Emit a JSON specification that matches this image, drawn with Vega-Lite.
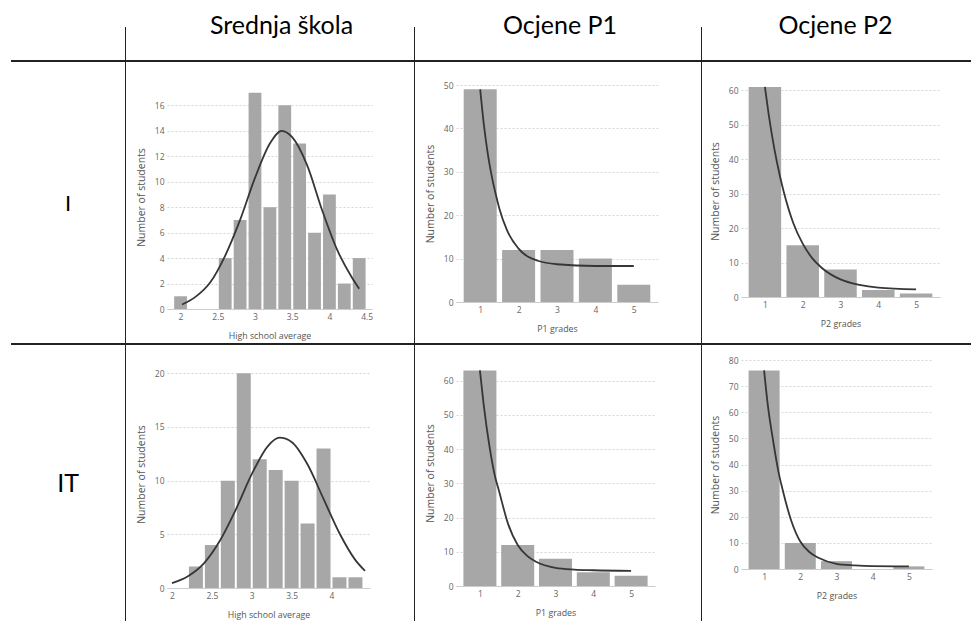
{
"$schema": "https://vega.github.io/schema/vega-lite/v6.json",
"padding": 0,
"background": "white",
"data": {"values": []},
"columns": 14,
"spacing": 0,
"bounds": "flush",
"align": "each",
"concat": [
{"width":11,"height":27,"mark":"point"},
{"width":114,"height":27,"mark":"point"},
{"width":1,"height":27,"mark":"point"},
{"width":41,"height":27,"mark":"point"},
{"width":205,"height":27,"data":{"values":[{}]},"mark":{"type":"text","text":"Srednja škola","fontSize":25,"baseline":"alphabetic","dx":12,"dy":20}},
{"width":42,"height":27,"mark":"point"},
{"width":1,"height":27,"mark":"point"},
{"width":41,"height":27,"mark":"point"},
{"width":202,"height":27,"data":{"values":[{}]},"mark":{"type":"text","text":"Ocjene P1","fontSize":25,"baseline":"alphabetic","dx":3,"dy":20}},
{"width":43,"height":27,"mark":"point"},
{"width":1,"height":27,"mark":"point"},
{"width":39,"height":27,"mark":"point"},
{"width":199,"height":27,"data":{"values":[{}]},"mark":{"type":"text","text":"Ocjene P2","fontSize":25,"baseline":"alphabetic","dx":-5,"dy":20}},
{"width":31,"height":27,"mark":"point"},

{"width":11,"height":33,"mark":"point"},
{"width":114,"height":33,"mark":"point"},
{"width":1,"height":33,"mark":"point","view":{"fill":"#222222"}},
{"width":41,"height":33,"mark":"point"},
{"width":205,"height":33,"mark":"point"},
{"width":42,"height":33,"mark":"point"},
{"width":1,"height":33,"mark":"point","view":{"fill":"#222222"}},
{"width":41,"height":33,"mark":"point"},
{"width":202,"height":33,"mark":"point"},
{"width":43,"height":33,"mark":"point"},
{"width":1,"height":33,"mark":"point","view":{"fill":"#222222"}},
{"width":39,"height":33,"mark":"point"},
{"width":199,"height":33,"mark":"point"},
{"width":31,"height":33,"mark":"point"},

{"width":11,"height":2,"mark":"point"},
{"width":114,"height":2,"mark":"point","view":{"fill":"#222222"}},
{"width":1,"height":2,"mark":"point","view":{"fill":"#222222"}},
{"width":41,"height":2,"mark":"point","view":{"fill":"#222222"}},
{"width":205,"height":2,"mark":"point","view":{"fill":"#222222"}},
{"width":42,"height":2,"mark":"point","view":{"fill":"#222222"}},
{"width":1,"height":2,"mark":"point","view":{"fill":"#222222"}},
{"width":41,"height":2,"mark":"point","view":{"fill":"#222222"}},
{"width":202,"height":2,"mark":"point","view":{"fill":"#222222"}},
{"width":43,"height":2,"mark":"point","view":{"fill":"#222222"}},
{"width":1,"height":2,"mark":"point","view":{"fill":"#222222"}},
{"width":39,"height":2,"mark":"point","view":{"fill":"#222222"}},
{"width":199,"height":2,"mark":"point","view":{"fill":"#222222"}},
{"width":31,"height":2,"mark":"point","view":{"fill":"#222222"}},

{"width":11,"height":23,"mark":"point"},
{"width":114,"height":23,"mark":"point"},
{"width":1,"height":23,"mark":"point","view":{"fill":"#222222"}},
{"width":41,"height":23,"mark":"point"},
{"width":205,"height":23,"mark":"point"},
{"width":42,"height":23,"mark":"point"},
{"width":1,"height":23,"mark":"point","view":{"fill":"#222222"}},
{"width":41,"height":23,"mark":"point"},
{"width":202,"height":23,"mark":"point"},
{"width":43,"height":23,"mark":"point"},
{"width":1,"height":23,"mark":"point","view":{"fill":"#222222"}},
{"width":39,"height":23,"mark":"point"},
{"width":199,"height":23,"mark":"point"},
{"width":31,"height":23,"mark":"point"},

{"width":11,"height":224,"mark":"point"},
{"width":114,"height":224,"data":{"values":[{}]},"mark":{"type":"text","text":"I","fontSize":22,"baseline":"alphabetic","dy":14}},
{"width":1,"height":224,"mark":"point","view":{"fill":"#222222"}},
{"width":41,"height":224,"mark":"point"},
{"width":205,"height":224,
 "encoding":{"x":{"field":"x","type":"quantitative","scale":{"domain":[1.885,4.505],"nice":false,"zero":false},"axis":{"values":[2,2.5,3,3.5,4,4.5],"format":"~g","title":"High school average"}},
   "y":{"field":"n","type":"quantitative","scale":{"domain":[0,17.6],"nice":false},"axis":{"values":[0,2,4,6,8,10,12,14,16],"title":"Number of students"}}},
 "layer":[
 {"data":{"values":[{"x":2.0,"n":1},{"x":2.2,"n":0},{"x":2.4,"n":0},{"x":2.6,"n":4},{"x":2.8,"n":7},{"x":3.0,"n":17},{"x":3.2,"n":8},{"x":3.4,"n":16},{"x":3.6,"n":13},{"x":3.8,"n":6},{"x":4.0,"n":9},{"x":4.2,"n":2},{"x":4.4,"n":4}]},
  "mark":{"type":"bar","width":12.8,"color":"#a7a7a7"}},
 {"data":{"values":[{"x":2.02,"n":0.35},{"x":2.2,"n":0.95},{"x":2.4,"n":2.1},{"x":2.6,"n":4.2},{"x":2.8,"n":7.0},{"x":3.0,"n":10.3},{"x":3.2,"n":13.0},{"x":3.36,"n":14.0},{"x":3.5,"n":13.5},{"x":3.7,"n":11.3},{"x":3.9,"n":7.8},{"x":4.1,"n":4.7},{"x":4.3,"n":2.5},{"x":4.4,"n":1.6}]},
  "mark":{"type":"line","interpolate":"monotone","color":"#363636","strokeWidth":1.8}}
]},
{"width":42,"height":224,"mark":"point"},
{"width":1,"height":224,"mark":"point","view":{"fill":"#222222"}},
{"width":41,"height":224,"mark":"point"},
{"width":202,"height":217,
 "encoding":{"x":{"field":"x","type":"quantitative","scale":{"domain":[0.5,5.5],"nice":false,"zero":false},"axis":{"values":[1,2,3,4,5],"title":"P1 grades"}},
   "y":{"field":"n","type":"quantitative","scale":{"domain":[0,50],"nice":false},"axis":{"values":[0,10,20,30,40,50],"title":"Number of students"}}},
 "layer":[
 {"data":{"values":[{"x":1,"n":49},{"x":2,"n":12},{"x":3,"n":12},{"x":4,"n":10},{"x":5,"n":4}]},
  "mark":{"type":"bar","width":33,"color":"#a7a7a7"}},
 {"data":{"values":[{"x":1.0,"n":49},{"x":1.1,"n":40.5},{"x":1.2,"n":34},{"x":1.3,"n":29},{"x":1.4,"n":25},{"x":1.5,"n":21.5},{"x":1.7,"n":16.5},{"x":2.0,"n":12.3},{"x":2.5,"n":9.5},{"x":3.0,"n":8.7},{"x":4.0,"n":8.3},{"x":5.0,"n":8.3}]},
  "mark":{"type":"line","interpolate":"monotone","color":"#363636","strokeWidth":1.8}}
]},
{"width":43,"height":224,"mark":"point"},
{"width":1,"height":224,"mark":"point","view":{"fill":"#222222"}},
{"width":39,"height":224,"mark":"point"},
{"width":199,"height":212,
 "encoding":{"x":{"field":"x","type":"quantitative","scale":{"domain":[0.5,5.5],"nice":false,"zero":false},"axis":{"values":[1,2,3,4,5],"title":"P2 grades"}},
   "y":{"field":"n","type":"quantitative","scale":{"domain":[0,61.56],"nice":false},"axis":{"values":[0,10,20,30,40,50,60],"title":"Number of students"}}},
 "layer":[
 {"data":{"values":[{"x":1,"n":61},{"x":2,"n":15},{"x":3,"n":8},{"x":4,"n":2},{"x":5,"n":1}]},
  "mark":{"type":"bar","width":32.5,"color":"#a7a7a7"}},
 {"data":{"values":[{"x":1.0,"n":61},{"x":1.1,"n":53},{"x":1.25,"n":43},{"x":1.4,"n":35},{"x":1.5,"n":30.5},{"x":1.75,"n":21.5},{"x":2.0,"n":15.5},{"x":2.25,"n":11.3},{"x":2.5,"n":8.5},{"x":3.0,"n":5.1},{"x":3.5,"n":3.5},{"x":4.0,"n":2.7},{"x":5.0,"n":2.2}]},
  "mark":{"type":"line","interpolate":"monotone","color":"#363636","strokeWidth":1.8}}
]},
{"width":31,"height":224,"mark":"point"},

{"width":11,"height":34,"mark":"point"},
{"width":114,"height":34,"mark":"point"},
{"width":1,"height":34,"mark":"point","view":{"fill":"#222222"}},
{"width":41,"height":34,"mark":"point"},
{"width":205,"height":34,"mark":"point"},
{"width":42,"height":34,"mark":"point"},
{"width":1,"height":34,"mark":"point","view":{"fill":"#222222"}},
{"width":41,"height":34,"mark":"point"},
{"width":202,"height":34,"mark":"point"},
{"width":43,"height":34,"mark":"point"},
{"width":1,"height":34,"mark":"point","view":{"fill":"#222222"}},
{"width":39,"height":34,"mark":"point"},
{"width":199,"height":34,"mark":"point"},
{"width":31,"height":34,"mark":"point"},

{"width":11,"height":2,"mark":"point"},
{"width":114,"height":2,"mark":"point","view":{"fill":"#222222"}},
{"width":1,"height":2,"mark":"point","view":{"fill":"#222222"}},
{"width":41,"height":2,"mark":"point","view":{"fill":"#222222"}},
{"width":205,"height":2,"mark":"point","view":{"fill":"#222222"}},
{"width":42,"height":2,"mark":"point","view":{"fill":"#222222"}},
{"width":1,"height":2,"mark":"point","view":{"fill":"#222222"}},
{"width":41,"height":2,"mark":"point","view":{"fill":"#222222"}},
{"width":202,"height":2,"mark":"point","view":{"fill":"#222222"}},
{"width":43,"height":2,"mark":"point","view":{"fill":"#222222"}},
{"width":1,"height":2,"mark":"point","view":{"fill":"#222222"}},
{"width":39,"height":2,"mark":"point","view":{"fill":"#222222"}},
{"width":199,"height":2,"mark":"point","view":{"fill":"#222222"}},
{"width":31,"height":2,"mark":"point","view":{"fill":"#222222"}},

{"width":11,"height":15,"mark":"point"},
{"width":114,"height":15,"mark":"point"},
{"width":1,"height":15,"mark":"point","view":{"fill":"#222222"}},
{"width":41,"height":15,"mark":"point"},
{"width":205,"height":15,"mark":"point"},
{"width":42,"height":15,"mark":"point"},
{"width":1,"height":15,"mark":"point","view":{"fill":"#222222"}},
{"width":41,"height":15,"mark":"point"},
{"width":202,"height":15,"mark":"point"},
{"width":43,"height":15,"mark":"point"},
{"width":1,"height":15,"mark":"point","view":{"fill":"#222222"}},
{"width":39,"height":15,"mark":"point"},
{"width":199,"height":15,"mark":"point"},
{"width":31,"height":15,"mark":"point"},

{"width":11,"height":228,"mark":"point"},
{"width":114,"height":228,"data":{"values":[{}]},"mark":{"type":"text","text":"IT","fontSize":25,"baseline":"alphabetic","dy":18}},
{"width":1,"height":261,"mark":"point","view":{"fill":"#222222"}},
{"width":41,"height":228,"mark":"point"},
{"width":203,"height":228,
 "encoding":{"x":{"field":"x","type":"quantitative","scale":{"domain":[2,4.42],"nice":false,"zero":false},"axis":{"values":[2,2.5,3,3.5,4],"format":"~g","title":"High school average"}},
   "y":{"field":"n","type":"quantitative","scale":{"domain":[0,21.24],"nice":false},"axis":{"values":[0,5,10,15,20],"title":"Number of students"}}},
 "layer":[
 {"data":{"values":[{"x":2.3,"n":2},{"x":2.5,"n":4},{"x":2.7,"n":10},{"x":2.9,"n":20},{"x":3.1,"n":12},{"x":3.3,"n":11},{"x":3.5,"n":10},{"x":3.7,"n":6},{"x":3.9,"n":13},{"x":4.1,"n":1},{"x":4.3,"n":1}]},
  "mark":{"type":"bar","width":14,"color":"#a7a7a7"}},
 {"data":{"values":[{"x":2.0,"n":0.45},{"x":2.2,"n":1.1},{"x":2.4,"n":2.3},{"x":2.6,"n":4.4},{"x":2.8,"n":7.3},{"x":3.0,"n":10.6},{"x":3.2,"n":13.2},{"x":3.35,"n":14.0},{"x":3.5,"n":13.6},{"x":3.7,"n":11.5},{"x":3.9,"n":8.3},{"x":4.1,"n":5.1},{"x":4.3,"n":2.6},{"x":4.42,"n":1.6}]},
  "mark":{"type":"line","interpolate":"monotone","color":"#363636","strokeWidth":1.8}}
]},
{"width":42,"height":228,"mark":"point"},
{"width":1,"height":261,"mark":"point","view":{"fill":"#222222"}},
{"width":41,"height":228,"mark":"point"},
{"width":199,"height":226,
 "encoding":{"x":{"field":"x","type":"quantitative","scale":{"domain":[0.5,5.5],"nice":false,"zero":false},"axis":{"values":[1,2,3,4,5],"title":"P1 grades"}},
   "y":{"field":"n","type":"quantitative","scale":{"domain":[0,66.05],"nice":false},"axis":{"values":[0,10,20,30,40,50,60],"title":"Number of students"}}},
 "layer":[
 {"data":{"values":[{"x":1,"n":63},{"x":2,"n":12},{"x":3,"n":8},{"x":4,"n":4},{"x":5,"n":3}]},
  "mark":{"type":"bar","width":33,"color":"#a7a7a7"}},
 {"data":{"values":[{"x":1.0,"n":63},{"x":1.1,"n":53},{"x":1.25,"n":41},{"x":1.4,"n":32},{"x":1.5,"n":28},{"x":1.75,"n":18},{"x":2.0,"n":12},{"x":2.25,"n":8.8},{"x":2.5,"n":7},{"x":3.0,"n":5.3},{"x":3.5,"n":4.8},{"x":4.0,"n":4.6},{"x":5.0,"n":4.4}]},
  "mark":{"type":"line","interpolate":"monotone","color":"#363636","strokeWidth":1.8}}
]},
{"width":43,"height":228,"mark":"point"},
{"width":1,"height":261,"mark":"point","view":{"fill":"#222222"}},
{"width":39,"height":228,"mark":"point"},
{"width":191,"height":209,
 "encoding":{"x":{"field":"x","type":"quantitative","scale":{"domain":[0.5,5.5],"nice":false,"zero":false},"axis":{"values":[1,2,3,4,5],"title":"P2 grades"}},
   "y":{"field":"n","type":"quantitative","scale":{"domain":[0,80],"nice":false},"axis":{"values":[0,10,20,30,40,50,60,70,80],"title":"Number of students"}}},
 "layer":[
 {"data":{"values":[{"x":1,"n":76},{"x":2,"n":10},{"x":3,"n":3},{"x":4,"n":0},{"x":5,"n":1}]},
  "mark":{"type":"bar","width":31,"color":"#a7a7a7"}},
 {"data":{"values":[{"x":1.0,"n":76},{"x":1.1,"n":63},{"x":1.25,"n":49},{"x":1.4,"n":37},{"x":1.5,"n":31},{"x":1.75,"n":18.5},{"x":2.0,"n":10.5},{"x":2.25,"n":6.5},{"x":2.5,"n":4.3},{"x":3.0,"n":2.0},{"x":3.5,"n":1.4},{"x":4.0,"n":1.1},{"x":5.0,"n":1.0}]},
  "mark":{"type":"line","interpolate":"monotone","color":"#363636","strokeWidth":1.8}}
]},
{"width":31,"height":228,"mark":"point"}
],
"config": {
 "view": {"stroke": null},
 "axis": {"labelFont":"Open Sans","labelFontSize":8.5,"labelColor":"#666666","titleFont":"Open Sans","titleFontSize":9.5,"titleFontWeight":"normal","titleColor":"#555555","ticks":false,"domain":false,"gridColor":"#d6d6d6","gridDash":[2,2],"labelPadding":3,"labelFlush":false,"labelOverlap":false},
 "axisX": {"grid":false,"domain":true,"domainColor":"#cccccc","labelPadding":3,"titlePadding":11,"titleFontSize":8.8},
 "axisY": {"titlePadding":8,"titleFontSize":10.5},
 "text": {"font":"Lato","color":"#000000"}
}
}
